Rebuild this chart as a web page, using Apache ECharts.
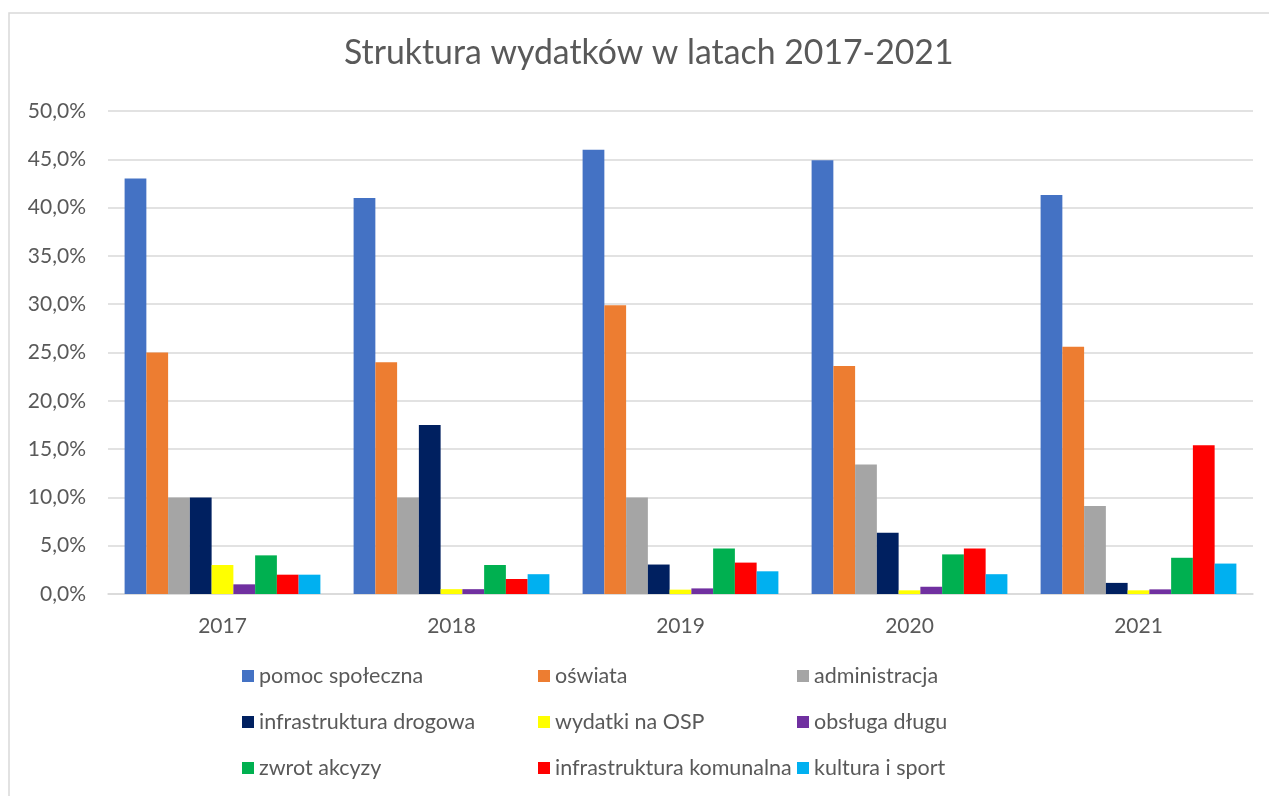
<!DOCTYPE html>
<html>
<head>
<meta charset="utf-8">
<script src="https://cdn.jsdelivr.net/npm/echarts@6/dist/echarts.min.js"></script>
<style>
html,body{margin:0;padding:0;background:#fff;}
#chart{width:1269px;height:796px;}
</style>
</head>
<body>
<div id="chart"></div>
<script>
const categories = ['2017', '2018', '2019', '2020', '2021'];
const seriesNames = ['pomoc społeczna', 'oświata', 'administracja', 'infrastruktura drogowa', 'wydatki na OSP', 'obsługa długu', 'zwrot akcyzy', 'infrastruktura komunalna', 'kultura i sport'];
const pomocSpoleczna = [43.0, 41.0, 46.0, 44.9, 41.3];
const oswiata = [25.0, 24.0, 29.9, 23.6, 25.6];
const administracja = [10.0, 10.0, 10.0, 13.4, 9.1];
const infrastrukturaDrogowa = [10.0, 17.5, 3.05, 6.35, 1.15];
const wydatkiOSP = [3.0, 0.5, 0.45, 0.38, 0.38];
const obslugaDlugu = [1.0, 0.5, 0.58, 0.75, 0.48];
const zwrotAkcyzy = [4.0, 3.0, 4.7, 4.1, 3.75];
const infrastrukturaKomunalna = [2.0, 1.55, 3.25, 4.7, 15.4];
const kulturaSport = [2.0, 2.05, 2.35, 2.05, 3.15];
const colors = ['#4472C4', '#ED7D31', '#A5A5A5', '#002060', '#FFFF00', '#7030A0', '#00B050', '#FF0000', '#00B0F0'];

const allData = [pomocSpoleczna, oswiata, administracja, infrastrukturaDrogowa, wydatkiOSP, obslugaDlugu, zwrotAkcyzy, infrastrukturaKomunalna, kulturaSport];
const FONT = 'Lato';
const TXT = '#595959';

const chart = echarts.init(document.getElementById('chart'));
const legendBase = {
  orient: 'vertical',
  top: 660,
  itemWidth: 12,
  itemHeight: 12,
  itemGap: 24,
  icon: 'rect',
  textStyle: { fontFamily: FONT, fontSize: 21.5, lineHeight: 22, color: TXT, padding: [0, 0, 0, 0] },
  selectedMode: false
};
chart.setOption({
  animation: false,
  color: colors,
  graphic: [{
    type: 'rect',
    shape: { x: 9, y: 13, width: 1400, height: 1000 },
    style: { fill: 'none', stroke: '#d9d9d9', lineWidth: 1.5 },
    silent: true
  }],
  title: {
    text: 'Struktura wydatków w latach 2017-2021',
    left: 339,
    top: 31,
    textStyle: { fontFamily: FONT, fontSize: 33.8, fontWeight: 'normal', color: TXT }
  },
  legend: [
    Object.assign({}, legendBase, { left: 237, data: [seriesNames[0], seriesNames[3], seriesNames[6]] }),
    Object.assign({}, legendBase, { left: 533, data: [seriesNames[1], seriesNames[4], seriesNames[7]] }),
    Object.assign({}, legendBase, { left: 792, data: [seriesNames[2], seriesNames[5], seriesNames[8]] })
  ],
  grid: { left: 108, right: 16, top: 111, bottom: 202, containLabel: false },
  xAxis: {
    type: 'category',
    data: categories,
    axisLine: { lineStyle: { color: '#d9d9d9', width: 1.5 } },
    axisTick: { show: false },
    axisLabel: { fontFamily: FONT, fontSize: 21, color: TXT, margin: 22 }
  },
  yAxis: {
    type: 'value',
    min: 0,
    max: 50,
    interval: 5,
    axisLine: { show: false },
    axisTick: { show: false },
    splitLine: { lineStyle: { color: '#d9d9d9', width: 1.5 } },
    axisLabel: {
      fontFamily: FONT, fontSize: 21, color: TXT, margin: 22,
      formatter: v => v.toFixed(1).replace('.', ',') + '%'
    }
  },
  series: seriesNames.map((name, i) => ({
    name: name,
    type: 'bar',
    data: allData[i],
    barGap: '0%',
    barCategoryGap: '14.5%',
    itemStyle: { color: colors[i] }
  }))
});
</script>
</body>
</html>
